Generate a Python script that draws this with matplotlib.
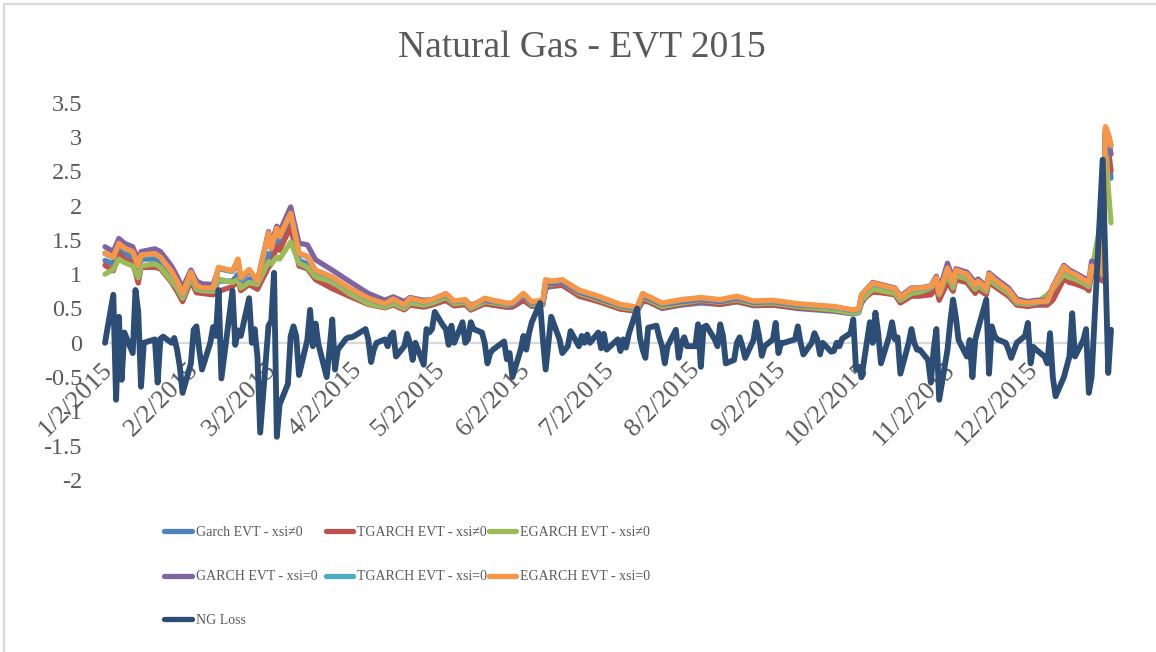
import pandas as pd
import matplotlib
matplotlib.use("Agg")
import matplotlib.pyplot as plt
import matplotlib.transforms as mtransforms
from matplotlib.lines import Line2D
from matplotlib.patches import Rectangle

plt.rcParams['font.family'] = ['Liberation Serif', 'DejaVu Serif']
TEXT = '#595959'

# ---------------------------------------------------------------------------
# Trading calendar 2015 (exchange holidays removed)
holidays = ['2015-01-19', '2015-02-16', '2015-04-03', '2015-05-25',
            '2015-07-03', '2015-09-07', '2015-11-26', '2015-12-25']
trade_days = pd.bdate_range('2015-01-02', '2015-12-31').difference(pd.to_datetime(holidays))

# Daily natural gas loss, month by month
ng_jan = [0.0, 0.70, -0.83, 0.38, -0.54, 0.15, -0.15, 0.77, 0.45, -0.64,
          0.0, 0.05, -0.58, 0.06, 0.09, 0.0, 0.07, -0.1, -0.35, -0.73]
ng_feb = [-0.3, 0.19, 0.24, -0.1, -0.39, 0.0, 0.23, 0.1, 0.77, -0.52,
          0.76, -0.03, 0.18, 0.1, 0.65, 0.0, 0.2, -0.2, -1.31]
ng_mar = [0.25, 0.32, 1.02, -1.37, -0.9, -0.6, 0.1, 0.24, 0.1, -0.47, 0.04,
          0.48, -0.05, 0.28, -0.02, -0.5, -0.1, 0.34, -0.39, -0.1, 0.06, 0.08]
ng_apr = [0.08, 0.1, 0.2, 0.05, -0.28, -0.1, 0.0, 0.05, -0.05, 0.1, 0.15,
          -0.2, -0.05, 0.13, 0.0, -0.25, 0.0, -0.32, 0.2, 0.15, 0.2]
ng_may = [0.45, 0.25, 0.2, -0.03, 0.25, 0.0, 0.3, 0.0, 0.05, 0.3,
          0.2, 0.15, 0.0, -0.3, -0.15, -0.1, 0.02, -0.24, -0.15, -0.5]
ng_jun = [-0.1, 0.1, -0.1, 0.14, 0.3, 0.58, 0.05, -0.39, 0.0, 0.38, 0.05,
          -0.15, -0.1, -0.05, 0.17, -0.05, 0.1, 0.0, 0.12, 0.0, 0.15, -0.08]
ng_jul = [0.13, -0.1, 0.05, -0.12, 0.05, -0.07, 0.13, 0.5, 0.08, -0.1, -0.22,
          0.22, 0.25, 0.08, -0.05, -0.3, -0.05, 0.19, -0.22, 0.0, 0.08, -0.05]
ng_aug = [-0.05, 0.27, -0.35, 0.23, 0.25, 0.05, -0.05, 0.27, 0.1, -0.3, -0.25,
          0.0, 0.08, -0.05, -0.22, 0.04, 0.3, 0.1, -0.19, -0.05, 0.05]
ng_sep = [0.29, -0.15, 0.0, 0.0, 0.05, 0.24, 0.0, -0.17, 0.0, 0.14, 0.05,
          -0.17, 0.0, -0.13, -0.12, 0.0, -0.05, 0.06, 0.14, 0.34, -0.39]
ng_oct = [-0.35, -0.5, 0.3, 0.0, 0.44, 0.14, -0.3, 0.1, 0.3, 0.05, 0.08,
          -0.45, 0.0, 0.2, 0.0, -0.1, -0.1, -0.25, -0.58, -0.1, 0.2, -0.83]
ng_nov = [-0.1, 0.3, 0.63, 0.38, 0.04, -0.2, 0.04, -0.5, 0.04, 0.2,
          0.63, -0.45, 0.24, 0.1, 0.05, 0.0, -0.1, -0.22, 0.0, 0.1]
ng_dec = [0.29, -0.3, -0.06, -0.1, -0.2, -0.3, 0.14, -0.5, -0.78, -0.5, -0.35,
          -0.2, 0.43, -0.2, 0.04, 0.2, -0.73, -0.5, 2.67, 1.1, -0.44, 0.19]
ng_loss = (ng_jan + ng_feb + ng_mar + ng_apr + ng_may + ng_jun +
           ng_jul + ng_aug + ng_sep + ng_oct + ng_nov + ng_dec)

# EVT value-at-risk estimates (sampled dates)
var_days = ['1/2', '1/5', '1/7', '1/9', '1/12', '1/14', '1/15', '1/20', '1/22', '1/26', '1/28', '1/30',
            '2/2', '2/4', '2/6', '2/10', '2/12', '2/17', '2/19', '2/20', '2/23', '2/26',
            '3/2', '3/3', '3/5', '3/6', '3/10', '3/13', '3/16', '3/19', '3/25', '3/31',
            '4/7', '4/13', '4/16', '4/20', '4/22', '4/27', '4/30',
            '5/5', '5/8', '5/12', '5/14', '5/19', '5/22', '5/27', '5/29',
            '6/2', '6/5', '6/9', '6/10', '6/12', '6/16', '6/22', '6/29',
            '7/7', '7/13', '7/15', '7/17', '7/22', '7/29',
            '8/5', '8/12', '8/18', '8/24', '8/31',
            '9/9', '9/22', '9/29',
            '10/1', '10/2', '10/6', '10/9', '10/14', '10/16', '10/20', '10/23', '10/27', '10/29', '10/30',
            '11/2', '11/4', '11/5', '11/9', '11/12', '11/13', '11/16', '11/17', '11/19', '11/24', '11/27',
            '12/1', '12/4', '12/8', '12/10', '12/14', '12/16', '12/18', '12/22', '12/23', '12/24',
            '12/28', '12/29', '12/30', '12/31']

garch_xsi = [1.20, 1.15, 1.38, 1.30, 1.25, 1.02, 1.22, 1.22, 1.18, 0.98, 0.85, 0.68,
             0.96, 0.80, 0.76, 0.75, 0.90, 0.90, 1.00, 0.82, 0.93, 0.83,
             1.30, 1.25, 1.50, 1.45, 1.75, 1.20, 1.15, 1.00, 0.88, 0.74,
             0.60, 0.53, 0.58, 0.51, 0.58, 0.54, 0.56,
             0.62, 0.54, 0.56, 0.48, 0.57, 0.55, 0.52, 0.52,
             0.62, 0.53, 0.56, 0.80, 0.82, 0.84, 0.70, 0.62,
             0.50, 0.46, 0.60, 0.60, 0.50, 0.55,
             0.58, 0.56, 0.60, 0.54, 0.55,
             0.50, 0.46, 0.42,
             0.44, 0.58, 0.80, 0.78, 0.73, 0.62, 0.72, 0.74, 0.76, 0.88, 0.70,
             0.98, 0.82, 0.98, 0.93, 0.80, 0.85, 0.75, 0.93, 0.86, 0.72, 0.58,
             0.55, 0.57, 0.58, 0.72, 1.00, 0.95, 0.92, 0.85, 0.82, 1.05, 1.00, 3.05, 2.75, 2.40]
tgarch_xsi = [1.13, 1.05, 1.30, 1.22, 1.17, 0.87, 1.10, 1.10, 1.08, 0.88, 0.75, 0.60,
              0.90, 0.73, 0.72, 0.70, 0.75, 0.82, 0.90, 0.76, 0.85, 0.78,
              1.10, 1.15, 1.40, 1.35, 1.69, 1.12, 1.08, 0.92, 0.79, 0.68,
              0.56, 0.51, 0.55, 0.48, 0.55, 0.52, 0.55,
              0.62, 0.54, 0.56, 0.48, 0.57, 0.55, 0.52, 0.53,
              0.62, 0.54, 0.56, 0.82, 0.83, 0.84, 0.68, 0.60,
              0.49, 0.46, 0.62, 0.60, 0.51, 0.56,
              0.60, 0.56, 0.60, 0.55, 0.55,
              0.51, 0.47, 0.43,
              0.45, 0.62, 0.74, 0.73, 0.70, 0.58, 0.68, 0.68, 0.70, 0.80, 0.62,
              0.88, 0.75, 0.92, 0.88, 0.72, 0.78, 0.70, 0.88, 0.82, 0.68, 0.55,
              0.53, 0.55, 0.55, 0.62, 0.93, 0.88, 0.86, 0.80, 0.76, 1.00, 0.90, 3.10, 2.85, 2.50]
egarch_xsi = [1.00, 1.07, 1.22, 1.17, 1.12, 0.95, 1.12, 1.15, 1.10, 0.90, 0.80, 0.65,
              0.95, 0.78, 0.76, 0.75, 0.93, 0.88, 0.92, 0.80, 0.88, 0.85,
              1.18, 1.15, 1.25, 1.22, 1.47, 1.16, 1.10, 0.96, 0.89, 0.72,
              0.57, 0.52, 0.57, 0.50, 0.58, 0.55, 0.58,
              0.66, 0.57, 0.59, 0.50, 0.60, 0.58, 0.55, 0.56,
              0.68, 0.56, 0.58, 0.85, 0.85, 0.88, 0.72, 0.63,
              0.52, 0.48, 0.66, 0.63, 0.53, 0.58,
              0.62, 0.59, 0.63, 0.57, 0.58,
              0.53, 0.48, 0.43,
              0.45, 0.62, 0.78, 0.76, 0.72, 0.62, 0.72, 0.74, 0.80, 0.88, 0.70,
              1.00, 0.80, 0.98, 0.93, 0.78, 0.84, 0.75, 0.93, 0.86, 0.72, 0.58,
              0.56, 0.58, 0.70, 0.78, 1.00, 0.95, 0.93, 0.85, 0.82, 1.05, 1.90, 3.05, 2.25, 1.75]
garch_0 = [1.40, 1.33, 1.52, 1.45, 1.40, 1.20, 1.33, 1.37, 1.33, 1.12, 0.97, 0.80,
           1.06, 0.90, 0.86, 0.85, 1.08, 1.04, 1.18, 0.93, 1.04, 0.90,
           1.62, 1.45, 1.70, 1.62, 1.98, 1.45, 1.43, 1.21, 1.06, 0.90,
           0.72, 0.62, 0.67, 0.60, 0.66, 0.62, 0.63,
           0.70, 0.60, 0.62, 0.55, 0.62, 0.60, 0.57, 0.56,
           0.68, 0.58, 0.60, 0.87, 0.86, 0.88, 0.74, 0.65,
           0.54, 0.50, 0.68, 0.65, 0.56, 0.60,
           0.63, 0.60, 0.65, 0.59, 0.60,
           0.55, 0.52, 0.47,
           0.49, 0.70, 0.88, 0.85, 0.80, 0.68, 0.80, 0.80, 0.83, 0.97, 0.76,
           1.16, 0.93, 1.08, 1.03, 0.88, 0.93, 0.82, 1.02, 0.95, 0.80, 0.64,
           0.60, 0.62, 0.62, 0.82, 1.13, 1.06, 1.02, 0.93, 0.90, 1.19, 1.15, 3.12, 3.00, 2.75]
tgarch_0 = [1.30, 1.24, 1.44, 1.37, 1.32, 1.11, 1.27, 1.29, 1.24, 1.03, 0.89, 0.71,
            1.02, 0.83, 0.79, 0.79, 1.09, 1.04, 1.21, 0.94, 1.06, 0.89,
            1.59, 1.37, 1.66, 1.54, 1.88, 1.30, 1.25, 1.05, 0.95, 0.79,
            0.64, 0.56, 0.63, 0.54, 0.64, 0.59, 0.62,
            0.71, 0.60, 0.62, 0.52, 0.64, 0.61, 0.57, 0.57,
            0.71, 0.59, 0.61, 0.91, 0.89, 0.91, 0.76, 0.67,
            0.55, 0.51, 0.71, 0.67, 0.57, 0.62,
            0.65, 0.62, 0.67, 0.60, 0.61,
            0.56, 0.52, 0.47,
            0.49, 0.69, 0.86, 0.83, 0.78, 0.65, 0.78, 0.79, 0.81, 0.94, 0.71,
            1.08, 0.86, 1.05, 0.99, 0.83, 0.89, 0.78, 0.99, 0.91, 0.76, 0.60,
            0.57, 0.59, 0.60, 0.79, 1.10, 1.02, 0.99, 0.89, 0.86, 1.11, 0.99, 3.14, 3.04, 2.87]
egarch_0 = [1.31, 1.25, 1.45, 1.38, 1.33, 1.12, 1.28, 1.30, 1.25, 1.04, 0.90, 0.72,
            1.03, 0.84, 0.80, 0.80, 1.10, 1.05, 1.22, 0.95, 1.07, 0.90,
            1.60, 1.38, 1.67, 1.55, 1.89, 1.31, 1.26, 1.06, 0.96, 0.80,
            0.65, 0.57, 0.64, 0.55, 0.65, 0.60, 0.63,
            0.72, 0.61, 0.63, 0.53, 0.65, 0.62, 0.58, 0.58,
            0.72, 0.60, 0.62, 0.92, 0.90, 0.92, 0.77, 0.68,
            0.56, 0.52, 0.72, 0.68, 0.58, 0.63,
            0.66, 0.63, 0.68, 0.61, 0.62,
            0.57, 0.53, 0.48,
            0.50, 0.70, 0.87, 0.84, 0.79, 0.66, 0.79, 0.80, 0.82, 0.95, 0.72,
            1.09, 0.87, 1.06, 1.00, 0.84, 0.90, 0.79, 1.00, 0.92, 0.77, 0.61,
            0.58, 0.60, 0.61, 0.80, 1.11, 1.03, 1.00, 0.90, 0.87, 1.12, 1.00, 3.15, 3.05, 2.88]

series_labels = ['Garch EVT - xsi\u22600', 'TGARCH EVT - xsi\u22600', 'EGARCH EVT - xsi\u22600',
                 'GARCH EVT - xsi=0', 'TGARCH EVT - xsi=0', 'EGARCH EVT - xsi=0', 'NG Loss']
series_colors = ['#4F81BD', '#C0504D', '#9BBB59', '#8064A2', '#4BACC6', '#F79646', '#2C4D75']

tick_dates = ['2015-01-02', '2015-02-02', '2015-03-02', '2015-04-02', '2015-05-02', '2015-06-02',
              '2015-07-02', '2015-08-02', '2015-09-02', '2015-10-02', '2015-11-02', '2015-12-02']
y_ticks = [-2, -1.5, -1, -0.5, 0, 0.5, 1, 1.5, 2, 2.5, 3, 3.5]

# ---------------------------------------------------------------------------
W, H = 1156, 652
fig = plt.figure(figsize=(W / 100, H / 100), dpi=100)
fig.patch.set_facecolor('white')

ax = fig.add_axes([105 / W, 1 - 480 / H, (1111 - 105) / W, (480 - 102.7) / H])

var_dates = pd.to_datetime(['2015/' + d for d in var_days])
var_series = [garch_xsi, tgarch_xsi, egarch_xsi, garch_0, tgarch_0, egarch_0]

for vals, col in zip(var_series, series_colors[:6]):
    ax.plot(var_dates, vals, color=col, lw=3.8, solid_joinstyle='round',
            solid_capstyle='round', clip_on=False, zorder=2)
ax.plot(trade_days, ng_loss, color=series_colors[6], lw=4.2, solid_joinstyle='round',
        solid_capstyle='round', clip_on=False, zorder=3)

ax.set_xlim(pd.Timestamp('2015-01-02'), pd.Timestamp('2015-12-31'))
ax.set_ylim(-2, 3.5)

for side in ['top', 'right', 'left']:
    ax.spines[side].set_visible(False)
ax.spines['bottom'].set_position(('data', 0))
ax.spines['bottom'].set_color('#D9D9D9')
ax.spines['bottom'].set_linewidth(1.6)
ax.spines['bottom'].set_zorder(1)

ax.set_yticks(y_ticks)
ax.set_yticklabels(['{:g}'.format(v) for v in y_ticks])
ticks = pd.to_datetime(tick_dates)
ax.set_xticks(ticks)
ax.set_xticklabels([f'{d.month}/{d.day}/{d.year}' for d in ticks])

ax.tick_params(axis='y', length=0, pad=16.5, labelsize=17.5, labelcolor=TEXT)
ax.tick_params(axis='x', length=0, pad=17, labelsize=19, labelcolor=TEXT)

shift = mtransforms.ScaledTranslation(4 / 100, 0, fig.dpi_scale_trans)
for lbl in ax.get_xticklabels():
    lbl.set_rotation(45)
    lbl.set_rotation_mode('anchor')
    lbl.set_ha('right')
    lbl.set_va('center')
    lbl.set_transform(lbl.get_transform() + shift)

fig.text(581.5 / W, 1 - 48 / H, 'Natural Gas - EVT 2015', ha='center', va='center',
         fontsize=27, color=TEXT)

# Legend: three columns, one entry per slot
col_x = [164.5, 326, 488.5]
row_y = [532, 577, 620]
for i, (lab, col) in enumerate(zip(series_labels, series_colors)):
    r, c = divmod(i, 3)
    h = Line2D([], [], color=col, lw=3.8, solid_capstyle='round')
    fig.legend(handles=[h], labels=[lab], loc='center left',
               bbox_to_anchor=(col_x[c] / W, 1 - row_y[r] / H),
               frameon=False, borderpad=0, borderaxespad=0,
               handlelength=1.97, handletextpad=0.29, fontsize=10,
               labelcolor=TEXT)

# Chart outline
fig.add_artist(Rectangle((4 / W, -0.2), 1.2, 1.2 - 4 / H, transform=fig.transFigure,
                         fill=False, edgecolor='#D9D9D9', lw=1.6))

fig.savefig('out.png', dpi=100, facecolor='white')
